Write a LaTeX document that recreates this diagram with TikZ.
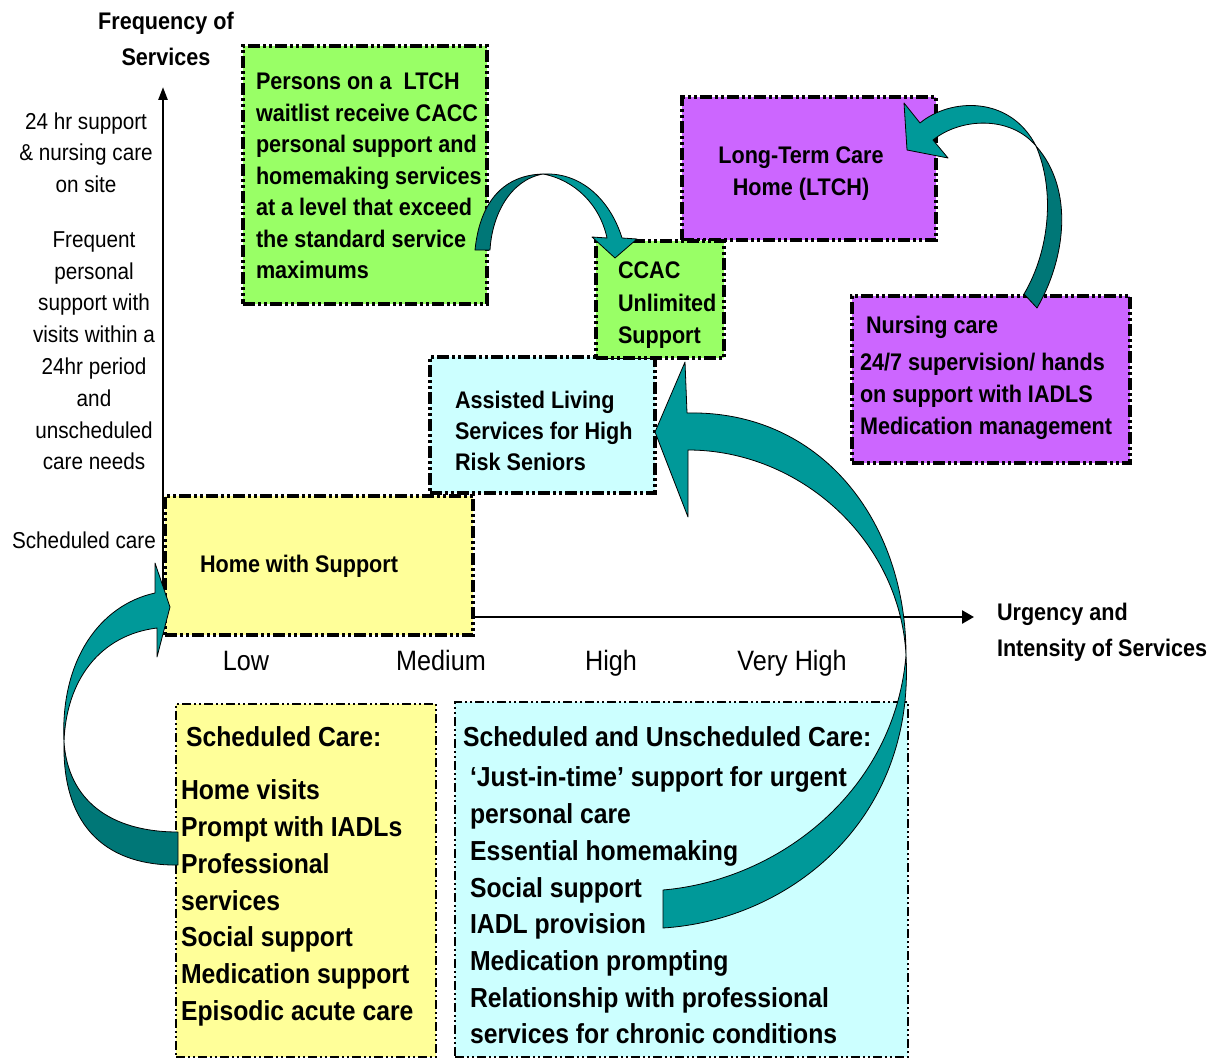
\documentclass[tikz,border=0pt]{standalone}
\usepackage{fontspec}
\setmainfont{Liberation Sans}[FakeStretch=0.9]
\usetikzlibrary{arrows.meta}
\definecolor{cgreen}{HTML}{99FF66}
\definecolor{cyellow}{HTML}{FFFF99}
\definecolor{cpurple}{HTML}{CC66FF}
\definecolor{ccyan}{HTML}{CCFFFF}
\definecolor{tealL}{HTML}{009999}
\definecolor{tealD}{HTML}{007777}
\tikzset{
  box/.style={draw=black, line width=3.5pt, dash pattern=on 12pt off 3pt on 3pt off 3pt on 3pt off 3pt, inner sep=0pt, outer sep=0pt, anchor=north west},
  thinbox/.style={box, line width=2pt, dash pattern=on 9pt off 3pt on 2pt off 3pt on 2pt off 3pt},
  lbl/.style={inner sep=0pt, outer sep=0pt, font=\fontsize{23}{31.8}\selectfont, align=center},
  tick/.style={inner sep=0pt, outer sep=0pt, font=\fontsize{28}{34}\selectfont, anchor=base},
  btxt/.style={inner sep=0pt, outer sep=0pt, font=\fontsize{24}{31.5}\selectfont\bfseries, align=left, anchor=north west},
  bigtxt/.style={inner sep=0pt, outer sep=0pt, font=\fontsize{27.5}{36.7}\selectfont\bfseries, align=left, anchor=north west},
  axis/.style={draw=black, line width=2.5pt},
  flowL/.style={fill=tealL, draw=black, line width=0.8pt, line join=round},
  flowD/.style={fill=tealD, draw=black, line width=0.8pt, line join=round},
}
\begin{document}
\begin{tikzpicture}[x=1pt,y=-1pt]
\useasboundingbox (0,0) rectangle (1214,1059);
\fill[white] (0,0) rectangle (1214,1059);

% axes
\coordinate (origin) at (163,617);
\coordinate (ytop) at (163,87);
\coordinate (xend) at (974,617);
\draw[axis,-{Triangle[length=13pt,width=9pt]}] (origin) -- (ytop);
\draw[axis,-{Triangle[length=12pt,width=13pt]}] (origin) -- (xend);

% axis titles and labels
\node[btxt, align=center, anchor=north, font=\fontsize{24}{36}\selectfont\bfseries] (ytitle) at (166,12) {Frequency of\\Services};
\node[btxt, font=\fontsize{24}{36}\selectfont\bfseries] (xtitle) at (997,603) {Urgency and\\Intensity of Services};
\node[lbl, anchor=north] (l24) at (86,112.5) {24 hr support\\\& nursing care\\on site};
\node[lbl, anchor=north] (lfreq) at (94,231.5) {Frequent\\personal\\support with\\visits within a\\24hr period\\and\\unscheduled\\care needs};
\node[lbl, anchor=base] (lsched) at (84,548) {Scheduled care};
\node[tick] (tlow) at (246,670) {Low};
\node[tick] (tmed) at (441,670) {Medium};
\node[tick] (thigh) at (611,670) {High};
\node[tick] (tvhigh) at (792,670) {Very High};

% boxes
\node[box, fill=cgreen, minimum width=244pt, minimum height=258pt] (green1) at (243,46) {};
\node[box, fill=cpurple, minimum width=254pt, minimum height=143pt] (ltch) at (682,97) {};
\node[box, fill=ccyan, minimum width=225pt, minimum height=136pt] (assist) at (430,357) {};
\node[box, fill=cgreen, minimum width=128pt, minimum height=117pt] (ccac) at (596,241) {};
\node[box, fill=cpurple, minimum width=278pt, minimum height=167pt] (nursing) at (852,296) {};
\node[box, fill=cyellow, minimum width=308pt, minimum height=139pt] (home) at (165,496) {};
\node[thinbox, fill=cyellow, minimum width=260pt, minimum height=353pt] (sched) at (176,704) {};
\node[thinbox, fill=ccyan, minimum width=453pt, minimum height=355pt] (unsched) at (455,702) {};

% box texts
\node[btxt] (green1t) at (256,73) {Persons on a\ \ LTCH\\waitlist receive CACC\\personal support and\\homemaking services\\at a level that exceed\\the standard service\\maximums};
\node[btxt, font=\fontsize{24}{32.5}\selectfont\bfseries] (ccact) at (618,262) {CCAC\\Unlimited\\Support};
\node[btxt, align=center, anchor=north, font=\fontsize{24}{32}\selectfont\bfseries] (ltcht) at (801,147) {Long-Term Care\\Home (LTCH)};
\node[btxt, font=\fontsize{24}{32}\selectfont\bfseries] (nursingt) at (860,316) {\hspace*{6pt}Nursing care\\[5pt]24/7 supervision/ hands\\on support with IADLS\\Medication management};
\node[btxt, font=\fontsize{24}{31}\selectfont\bfseries] (assistt) at (455,391) {Assisted Living\\Services for High\\Risk Seniors};
\node[btxt, anchor=base] (homet) at (299,572) {Home with Support};
\node[bigtxt] (schedh) at (186,727) {Scheduled Care:};
\node[bigtxt] (schedt) at (181,780) {Home visits\\Prompt with IADLs\\Professional\\services\\Social support\\Medication support\\Episodic acute care};
\node[bigtxt] (unschedh) at (463,727) {Scheduled and Unscheduled Care:};
\node[bigtxt] (unschedt) at (470,767) {‘Just-in-time’ support for urgent\\personal care\\Essential homemaking\\Social support\\IADL provision\\Medication prompting\\Relationship with professional\\services for chronic conditions};

% curved block arrows
% left: from Scheduled Care box to Home with Support
\filldraw[flowD] (178,832) .. controls (110,832) and (68,800) .. (64,742)
   .. controls (62,830) and (110,866) .. (178,865) -- cycle;
\filldraw[flowL] (64,742) .. controls (66,680) and (100,635) .. (157,628)
   -- (157,657) -- (170,607) -- (155,563) -- (155,593)
   .. controls (100,605) and (60,660) .. (64,742) -- cycle;

% big: from Scheduled and Unscheduled Care to Assisted Living
\filldraw[flowL] (906,655) .. controls (895,790) and (780,880) .. (663,890)
   -- (663,928) .. controls (790,920) and (915,820) .. (906,655) -- cycle;
\filldraw[flowL] (906,655) .. controls (900,540) and (800,450) .. (688,450)
   -- (688,517) -- (655,432) -- (685,362) -- (687,413)
   .. controls (820,410) and (906,520) .. (906,655) -- cycle;

% small: from green box to CCAC
\filldraw[flowD] (475,250) .. controls (480,200) and (505,175) .. (543,174)
   .. controls (510,180) and (492,215) .. (490,250) -- cycle;
\filldraw[flowL] (543,174) .. controls (585,172) and (612,205) .. (622,238)
   -- (637,239) -- (615,258) -- (592,237) -- (607,238)
   .. controls (600,205) and (575,180) .. (543,174) -- cycle;

% right: from Nursing care to LTCH
\filldraw[flowD] (1036,146) .. controls (1075,190) and (1065,260) .. (1037,308)
   -- (1024,294) .. controls (1050,250) and (1055,190) .. (1036,146) -- cycle;
\filldraw[flowL] (904,103) -- (907,150) -- (948,158) -- (933,140)
   .. controls (960,118) and (1010,115) .. (1036,146)
   .. controls (1010,95) and (950,98) .. (920,123) -- cycle;
\end{tikzpicture}
\end{document}
